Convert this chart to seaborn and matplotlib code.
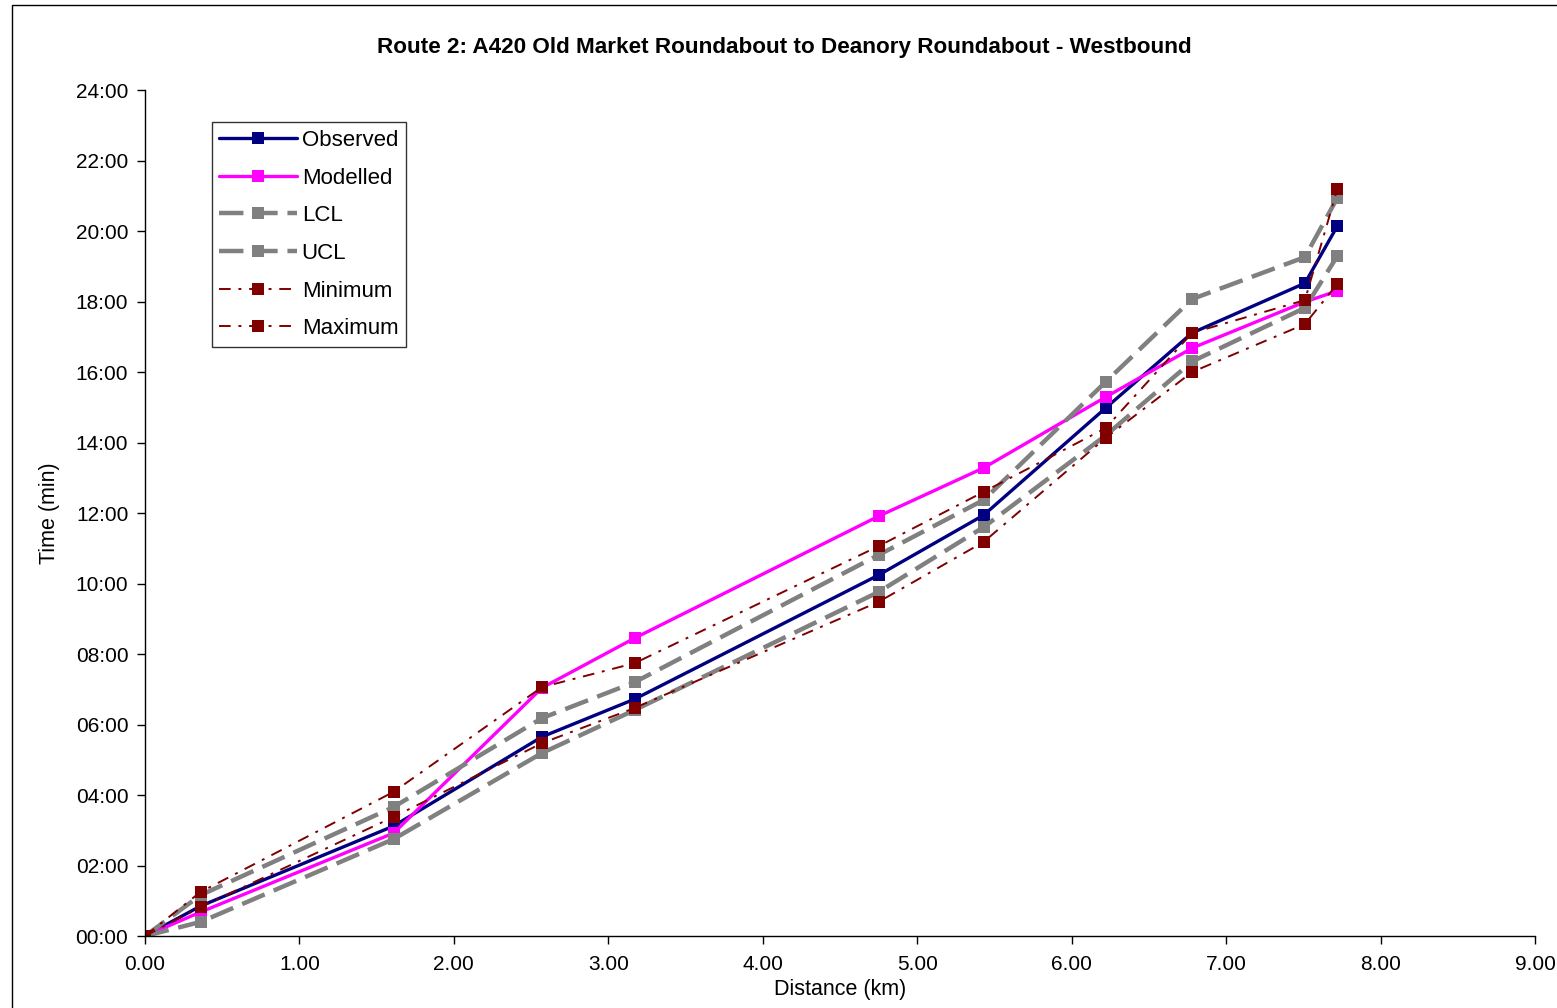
import numpy as np
import pandas as pd
import matplotlib
matplotlib.use("Agg")
import matplotlib.pyplot as plt
import seaborn as sns

# Data (distance in km, time in minutes)
distance = [0.0, 0.36, 1.61, 2.57, 3.17, 4.75, 5.43, 6.22, 6.78, 7.51, 7.72]
observed = [0.0, 0.85, 3.12, 5.65, 6.72, 10.24, 11.94, 14.98, 17.11, 18.52, 20.14]
modelled = [0.0, 0.68, 2.92, 7.04, 8.45, 11.91, 13.28, 15.29, 16.68, 17.99, 18.30]
lcl = [0.0, 0.40, 2.75, 5.19, 6.41, 9.76, 11.60, 14.20, 16.30, 17.82, 19.29]
ucl = [0.0, 1.16, 3.66, 6.18, 7.20, 10.81, 12.37, 15.72, 18.07, 19.26, 20.94]
minimum = [0.0, 0.82, 3.38, 5.47, 6.47, 9.48, 11.18, 14.13, 16.00, 17.36, 18.50]
maximum = [0.0, 1.25, 4.09, 7.06, 7.74, 11.06, 12.60, 14.41, 17.11, 18.04, 21.19]

sns.set_style("white")
plt.rcParams['font.family'] = ['Liberation Sans', 'DejaVu Sans']
plt.rcParams.update({"text.color": "black", "axes.labelcolor": "black",
                     "xtick.color": "black", "ytick.color": "black"})

fig = plt.figure(figsize=(15.57, 10.08), dpi=100)
ax = fig.add_axes([0.0931, 0.0714, 0.8928, 0.8393])

series = [
    ("Observed", observed, dict(color="#000080", lw=2.4, linestyle="-", markersize=8)),
    ("Modelled", modelled, dict(color="#FF00FF", lw=2.4, linestyle="-", markersize=8)),
    ("LCL", lcl, dict(color="#808080", lw=3.2, linestyle=(0, (5.5, 2.2)), markersize=8)),
    ("UCL", ucl, dict(color="#808080", lw=3.2, linestyle=(0, (5.5, 2.2)), markersize=8)),
    ("Minimum", minimum, dict(color="#800000", lw=1.4, linestyle=(0, (6, 4, 1.5, 4)), markersize=8)),
    ("Maximum", maximum, dict(color="#800000", lw=1.4, linestyle=(0, (6, 4, 1.5, 4)), markersize=8)),
]

for name, vals, st in series:
    sns.lineplot(x=distance, y=vals, ax=ax, label=name, marker="s",
                 markeredgewidth=0, sort=False, **st)

ax.set_xlim(0, 9)
ax.set_ylim(0, 24)
ax.set_xticks(np.arange(0, 9.01, 1))
ax.set_xticklabels([f"{v:.2f}" for v in np.arange(0, 9.01, 1)], fontsize=15)
ax.set_yticks(np.arange(0, 24.01, 2))
ax.set_yticklabels([f"{int(v):02d}:00" for v in np.arange(0, 24.01, 2)], fontsize=15)
ax.tick_params(axis="both", direction="out", length=6, width=1, color="black",
               bottom=True, left=True)
ax.tick_params(axis="x", pad=8)
ax.tick_params(axis="y", pad=6)
for s in ["top", "right"]:
    ax.spines[s].set_visible(False)
for s in ["left", "bottom"]:
    ax.spines[s].set_color("black")
    ax.spines[s].set_linewidth(1)

ax.set_xlabel("Distance (km)", fontsize=15.5, labelpad=3)
ax.set_ylabel("Time (min)", fontsize=15.5, labelpad=11)

fig.text(0.504, 0.953, "Route 2: A420 Old Market Roundabout to Deanory Roundabout - Westbound",
         ha="center", va="center", fontsize=16.2, fontweight="bold")

leg = ax.legend(loc="upper left", bbox_to_anchor=(0.048, 0.962), fontsize=16,
                handlelength=3.5, numpoints=1, labelspacing=0.75, fancybox=False,
                frameon=True, borderpad=0.35, handletextpad=0.2, borderaxespad=0)
leg.get_frame().set_edgecolor("black")
leg.get_frame().set_linewidth(1)

fig.add_artist(plt.Rectangle((0.008, -0.01), 1.0, 1.005, transform=fig.transFigure,
                             fill=False, ec="black", lw=1))

fig.savefig("out.png", dpi=100)
